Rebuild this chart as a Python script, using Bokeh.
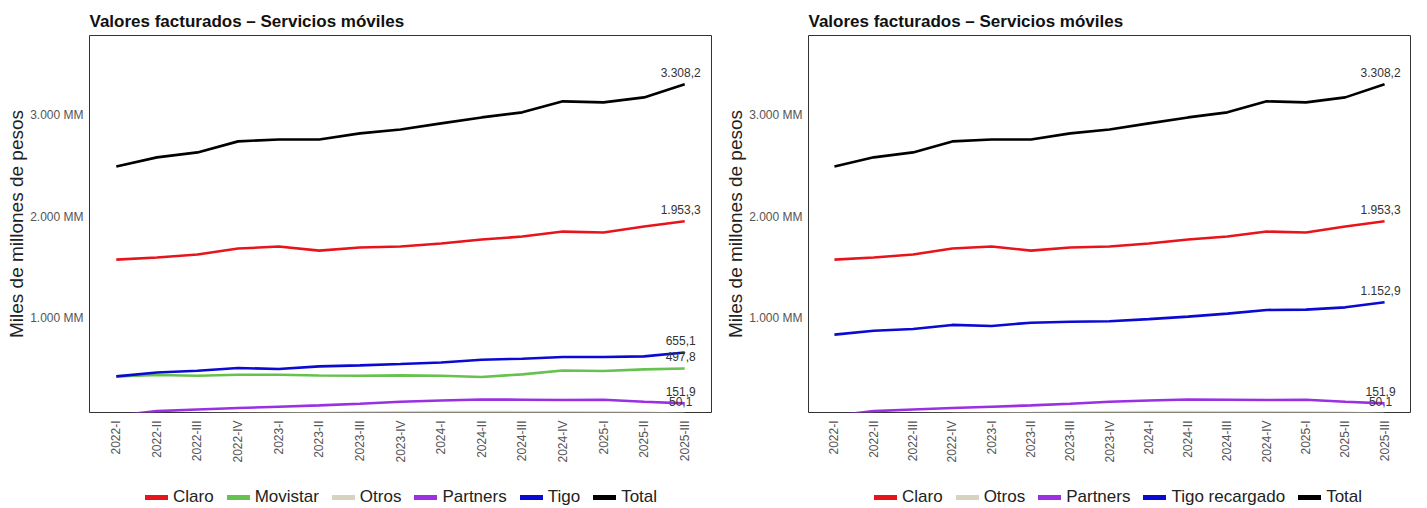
from bokeh.plotting import figure
from bokeh.models import FactorRange, Range1d, FixedTicker, Legend, LegendItem, ColumnDataSource
from bokeh.layouts import row, column
from bokeh.embed import file_html
from bokeh.resources import INLINE
from bokeh.core.properties import value
import math

periods = ["2022-I", "2022-II", "2022-III", "2022-IV",
           "2023-I", "2023-II", "2023-III", "2023-IV",
           "2024-I", "2024-II", "2024-III", "2024-IV",
           "2025-I", "2025-II", "2025-III"]

total = [2495, 2585, 2634, 2743, 2762, 2762, 2822, 2861, 2921, 2980, 3030, 3139, 3129, 3178, 3308.2]
claro = [1574, 1594, 1624, 1683, 1703, 1663, 1693, 1703, 1733, 1772, 1802, 1851, 1842, 1901, 1953.3]
tigo = [419, 458, 475, 502, 492, 518, 528, 541, 557, 584, 594, 611, 611, 617, 655.1]
movistar = [419, 433, 426, 436, 436, 428, 426, 429, 426, 413, 439, 478, 472, 488, 497.8]
partners = [30, 76, 92, 106, 119, 132, 149, 168, 181, 191, 188, 185, 188, 168, 151.9]
otros = [40, 42, 45, 48, 52, 56, 62, 65, 66, 66, 65, 64, 62, 58, 50.1]
tigo_recargado = [832, 871, 888, 928, 918, 950, 960, 965, 985, 1010, 1040, 1076, 1079, 1102, 1152.9]

y_ticks = [1000, 2000, 3000]
y_tick_labels = ["1.000 MM", "2.000 MM", "3.000 MM"]

title_text = "Valores facturados – Servicios móviles"
y_label = "Miles de millones de pesos"

colors = {
    "Claro": "#e8141c",
    "Movistar": "#66c24f",
    "Otros": "#d8d2c0",
    "Partners": "#9b2fe3",
    "Tigo": "#0a0ad2",
    "Tigo recargado": "#0a0ad2",
    "Total": "#000000",
}

FONT = "Liberation Sans"


def fmt(v):
    s = f"{v:,.1f}"
    return s.replace(",", "X").replace(".", ",").replace("X", ".")


def make_panel(series, width, border_left, border_right, legend_x):
    p = figure(width=width, height=486, output_backend="svg", toolbar_location=None,
               x_range=FactorRange(factors=periods, range_padding=0.16, range_padding_units="absolute"),
               y_range=Range1d(62, 3790),
               min_border_left=border_left, min_border_right=border_right,
               min_border_top=35, min_border_bottom=74)
    p.title.text = title_text
    p.title.text_font = FONT
    p.title.text_font_size = "17px"
    p.title.text_font_style = "bold"
    p.title.text_color = "#111111"
    p.title.offset = 0
    p.title.standoff = 10
    p.xgrid.visible = False
    p.ygrid.visible = False
    p.outline_line_color = "#333333"
    p.outline_line_width = 1
    p.background_fill_color = "white"
    p.border_fill_color = "white"

    p.yaxis.ticker = FixedTicker(ticks=y_ticks)
    p.yaxis.major_label_overrides = {t: l for t, l in zip(y_ticks, y_tick_labels)}
    p.yaxis.axis_label = y_label
    p.yaxis.axis_label_text_font = FONT
    p.yaxis.axis_label_text_font_size = "19px"
    p.yaxis.axis_label_text_font_style = "normal"
    p.yaxis.axis_label_text_color = "#222222"
    p.yaxis.axis_label_standoff = 0
    for ax in (p.xaxis, p.yaxis):
        ax.axis_line_color = None
        ax.major_tick_line_color = None
        ax.minor_tick_line_color = None
        ax.major_tick_out = 0
        ax.major_tick_in = 0
        ax.major_label_text_font = FONT
        ax.major_label_text_color = "#555555"
    p.yaxis.major_label_text_font_size = "12px"
    p.yaxis.major_label_standoff = 6
    p.xaxis.major_label_text_font_size = "12px"
    p.xaxis.major_label_orientation = math.pi / 2
    p.xaxis.major_label_standoff = 8

    for name, vals in series:
        p.line(x=periods, y=vals, line_color=colors[name], line_width=2.6)

    lab_x, lab_y, lab_t = [], [], []
    for name, vals in series:
        lab_x.append(periods[-1])
        lab_y.append(vals[-1])
        lab_t.append(fmt(vals[-1]))
    src = ColumnDataSource(dict(x=lab_x, y=lab_y, t=lab_t))
    p.text(x="x", y="y", text="t", source=src, text_align="center", text_baseline="middle",
           x_offset=-4, y_offset=-12, text_font=value(FONT), text_font_size="12px",
           text_color="#333333")

    # legend strip under the chart (its frame lines up with the chart's frame)
    lf = figure(width=width, height=22, output_backend="svg", toolbar_location=None,
                x_range=Range1d(0, 1), y_range=Range1d(0, 1),
                x_axis_type=None, y_axis_type=None,
                min_border_left=0, min_border_right=0, min_border_top=0, min_border_bottom=0)
    lf.xgrid.visible = False
    lf.ygrid.visible = False
    lf.outline_line_color = None
    lf.background_fill_color = "white"
    lf.border_fill_color = "white"
    items = []
    for name, vals in series:
        dummy = lf.line(x=[5, 6], y=[5, 5], line_color=colors[name], line_width=5, line_cap="round")
        items.append(LegendItem(label=name, renderers=[dummy]))
    leg = Legend(items=items, orientation="horizontal", location=(legend_x, 1),
                 border_line_alpha=0, background_fill_alpha=0, padding=0, margin=0,
                 spacing=13, glyph_width=23, glyph_height=20, label_height=20,
                 label_standoff=5, label_text_font=FONT, label_text_font_size="17px",
                 label_text_color="#222222")
    lf.add_layout(leg, "center")
    return column(p, lf, spacing=0)


left_series = [("Claro", claro), ("Movistar", movistar), ("Otros", otros),
               ("Partners", partners), ("Tigo", tigo), ("Total", total)]
right_series = [("Claro", claro), ("Otros", otros), ("Partners", partners),
                ("Tigo recargado", tigo_recargado), ("Total", total)]

c1 = make_panel(left_series, 720, 89, 9, 56)
c2 = make_panel(right_series, 707, 88, 17, 66)

layout = row(c1, c2, spacing=0)
open("out.html", "w").write(file_html(layout, INLINE))
